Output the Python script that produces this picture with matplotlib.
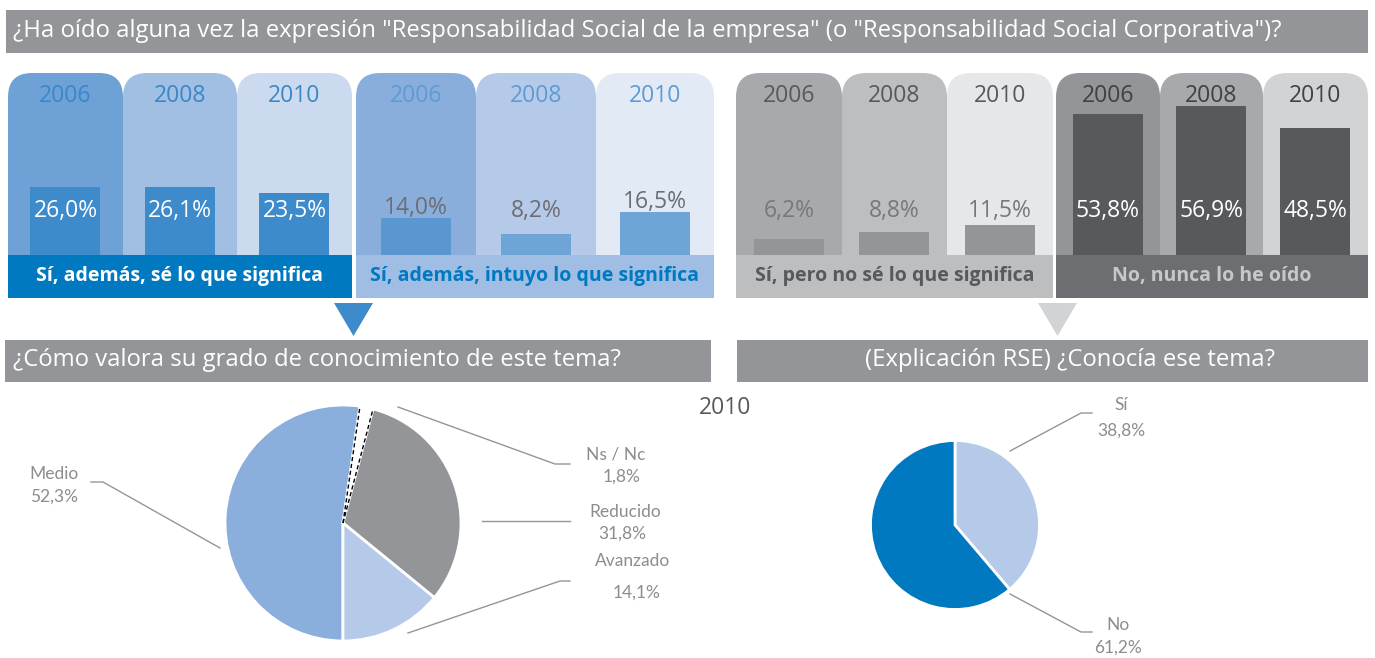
import numpy as np
import matplotlib
matplotlib.use("Agg")
import matplotlib.pyplot as plt
from matplotlib.patches import FancyBboxPatch, Rectangle, Polygon

plt.rcParams['font.family'] = ['Open Sans', 'DejaVu Sans']

# ---- data ----
years = ['2006', '2008', '2010']
si_sabe = [26.0, 26.1, 23.5]
si_intuye = [14.0, 8.2, 16.5]
si_no_sabe = [6.2, 8.8, 11.5]
no_oido = [53.8, 56.9, 48.5]
group_labels = ['Sí, además, sé lo que significa',
                'Sí, además, intuyo lo que significa',
                'Sí, pero no sé lo que significa',
                'No, nunca lo he oído']

conoc_labels = ['Medio', 'Ns / Nc', 'Reducido', 'Avanzado']
conoc_vals = [52.3, 1.8, 31.8, 14.1]
rse_labels = ['Sí', 'No']
rse_vals = [38.8, 61.2]

title_top = '¿Ha oído alguna vez la expresión "Responsabilidad Social de la empresa" (o "Responsabilidad Social Corporativa")?'
title_left = '¿Cómo valora su grado de conocimiento de este tema?'
title_right = '(Explicación RSE) ¿Conocía ese tema?'


def pct(v):
    return f"{v:.1f}%".replace('.', ',')


W, H = 1375, 658
fig = plt.figure(figsize=(W / 100, H / 100), dpi=100)

# background axes in pixel coordinates
bg = fig.add_axes([0, 0, 1, 1])
bg.set_xlim(0, W)
bg.set_ylim(H, 0)
bg.axis('off')

GRAY = '#939598'

# title bands
bg.add_patch(Rectangle((6, 10), 1362, 43, color=GRAY, lw=0))
bg.text(13, 31, title_top, color='white', fontsize=17.2, va='center', ha='left')
bg.add_patch(Rectangle((5, 340), 706, 42, color=GRAY, lw=0))
bg.text(13, 360, title_left, color='white', fontsize=17.2, va='center', ha='left')
bg.add_patch(Rectangle((737, 340), 631, 42, color=GRAY, lw=0))
bg.text(1070, 360, title_right, color='white', fontsize=17.2, va='center', ha='center')

# groups of panels
groups = [
    dict(vals=si_sabe, edges=[8, 123, 237, 352],
         panel=['#6ea2d6', '#a1bee3', '#cbdaee'], bar=['#3d8bcb'] * 3,
         year='#3a87c8', val='white', band='#0079c1', bandtxt='white', above=False),
    dict(vals=si_intuye, edges=[356, 476, 596, 714],
         panel=['#8aaedc', '#b5cae8', '#e2eaf6'], bar=['#5a96d0', '#6ea4d6', '#6ea4d6'],
         year='#5e9ad3', val='#6d6e71', band='#a0bde3', bandtxt='#0079c1', above=True),
    dict(vals=si_no_sabe, edges=[736, 842, 947, 1053],
         panel=['#a7a9ac', '#bcbec0', '#e6e7e8'], bar=['#939598'] * 3,
         year='#58595b', val='#77787b', band='#bcbec0', bandtxt='#58595b', above=False),
    dict(vals=no_oido, edges=[1056, 1160, 1263, 1368],
         panel=['#939598', '#a7a9ac', '#d1d3d4'], bar=['#58595b'] * 3,
         year='#414042', val='white', band='#6d6e71', bandtxt='#c7c8ca', above=False),
]

base_y = 255
scale = 2.62  # px per %
axb = fig.add_axes([0, (H - base_y) / H, 1, 200 / H])
axb.set_xlim(0, W)
axb.set_ylim(0, 200 / scale)
axb.axis('off')
axb.patch.set_alpha(0)

label_y = (base_y - 211) / scale

for g, lab in zip(groups, group_labels):
    e = g['edges']
    for i in range(3):
        bg.add_patch(FancyBboxPatch((e[i], 73), e[i + 1] - e[i], 215,
                                    boxstyle="round,pad=0,rounding_size=24",
                                    fc=g['panel'][i], ec='none', zorder=1))
        bg.text((e[i] + e[i + 1]) / 2, 96, years[i], color=g['year'],
                fontsize=16.5, ha='center', va='center', zorder=3)
    centers = [(e[i] + e[i + 1]) / 2 for i in range(3)]
    axb.bar(centers, g['vals'], width=70, color=g['bar'], zorder=2)
    for c, v in zip(centers, g['vals']):
        y = max(label_y, v + 10 / scale) if g['above'] else label_y
        axb.text(c, y, pct(v), color=g['val'], fontsize=16.5,
                 ha='center', va='center', zorder=3)
    bg.add_patch(Rectangle((e[0], base_y), e[3] - e[0], 43,
                           color=g['band'], lw=0, zorder=2))
    bg.text((e[0] + e[3]) / 2, base_y + 21, lab, color=g['bandtxt'],
            fontsize=14, fontweight='bold', ha='center', va='center', zorder=3)

# arrows
bg.add_patch(Polygon([(334, 303), (373, 303), (353.5, 336)], color='#3d8bcb', lw=0))
bg.add_patch(Polygon([(1038, 303), (1077, 303), (1057.5, 336)], color='#d1d3d4', lw=0))

bg.text(725, 408, '2010', color='#58595b', fontsize=16.5, ha='center', va='center')

# ---- left pie ----
cx, cy, r = 343, 523, 118
axp = fig.add_axes([(cx - r) / W, (H - cy - r) / H, 2 * r / W, 2 * r / H])
wedges, _ = axp.pie(conoc_vals, colors=['#8aafdc', 'white', '#939598', '#b5cae8'],
                    startangle=-90, counterclock=False,
                    wedgeprops=dict(edgecolor='white', linewidth=2))
axp.set_xlim(-1, 1)
axp.set_ylim(-1, 1)
ns = wedges[1]
for th in (ns.theta1, ns.theta2):
    a = np.deg2rad(th)
    axp.plot([0, np.cos(a)], [0, np.sin(a)], color='black', ls=(0, (3, 2)), lw=1)

lab_kw = dict(family=['Lato', 'DejaVu Sans'], color='#8c8d90', fontsize=12.5)
line_kw = dict(color='#939598', lw=1)

bg.plot([91, 103, 220], [482, 482, 548], **line_kw)
bg.text(54, 474, conoc_labels[0], ha='center', va='center', **lab_kw)
bg.text(54, 497, pct(conoc_vals[0]), ha='center', va='center', **lab_kw)

bg.plot([398, 555, 570], [407, 464, 464], **line_kw)
bg.text(616, 454, conoc_labels[1], ha='center', va='center', **lab_kw)
bg.text(622, 477, pct(conoc_vals[1]), ha='center', va='center', **lab_kw)

bg.plot([482, 570], [521, 521], **line_kw)
bg.text(625, 512, conoc_labels[2], ha='center', va='center', **lab_kw)
bg.text(622, 534, pct(conoc_vals[2]), ha='center', va='center', **lab_kw)

bg.plot([408, 560, 570], [633, 581, 581], **line_kw)
bg.text(633, 561, conoc_labels[3], ha='center', va='center', **lab_kw)
bg.text(637, 593, pct(conoc_vals[3]), ha='center', va='center', **lab_kw)

# ---- right pie ----
cx, cy, r = 955, 525, 84.5
axr = fig.add_axes([(cx - r) / W, (H - cy - r) / H, 2 * r / W, 2 * r / H])
axr.pie(rse_vals, colors=['#b5cae8', '#0079c1'], startangle=90, counterclock=False,
        wedgeprops=dict(edgecolor='white', linewidth=2))
axr.set_xlim(-1, 1)
axr.set_ylim(-1, 1)

bg.plot([1010, 1081, 1092], [451, 413, 413], **line_kw)
bg.text(1121, 405, rse_labels[0], ha='center', va='center', **lab_kw)
bg.text(1121, 431, pct(rse_vals[0]), ha='center', va='center', **lab_kw)

bg.plot([1010, 1081, 1092], [594, 632, 632], **line_kw)
bg.text(1118, 625, rse_labels[1], ha='center', va='center', **lab_kw)
bg.text(1118, 648, pct(rse_vals[1]), ha='center', va='center', **lab_kw)

fig.savefig('out.png', dpi=100)
